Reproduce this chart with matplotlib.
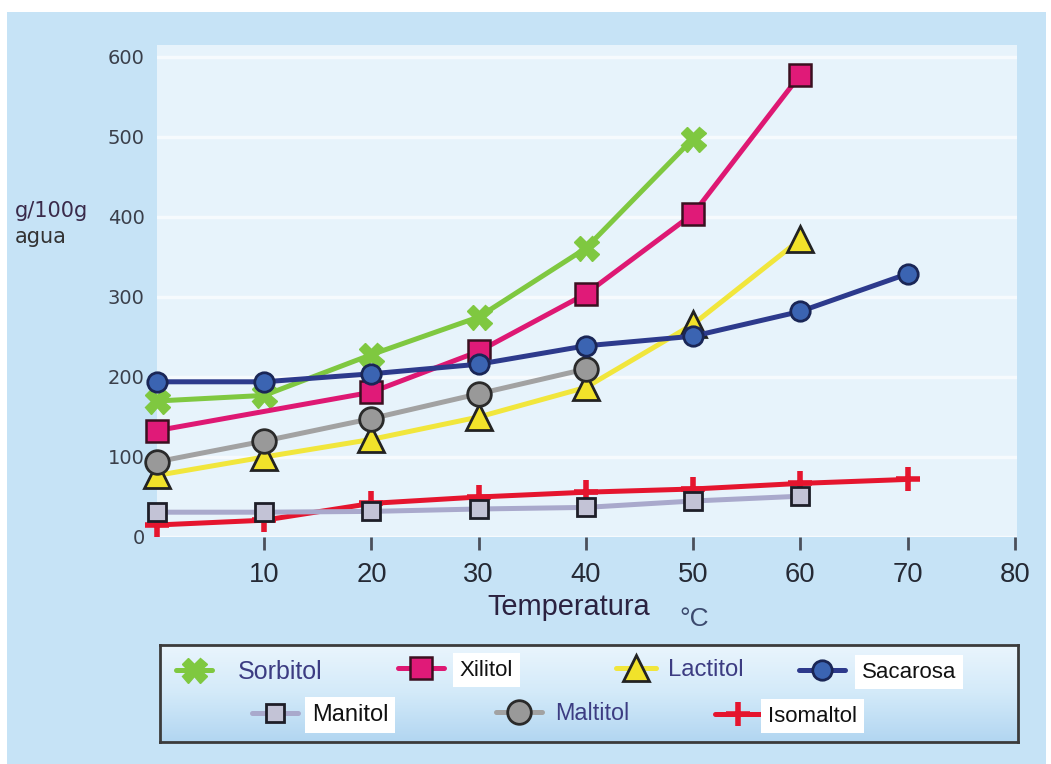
import matplotlib
matplotlib.use('Agg')
from matplotlib import pyplot as plt
from matplotlib import font_manager
from matplotlib.patches import Rectangle
import numpy as np

# data (g per 100 g water vs temperature, degC)
sorbitol_t = [0, 10, 20, 30, 40, 50]
sorbitol = [170, 177, 228, 275, 361, 498]

xilitol_t = [0, 20, 30, 40, 50, 60]
xilitol = [133, 181, 232, 304, 404, 578]

lactitol_t = [0, 10, 20, 30, 40, 50, 60]
lactitol = [77, 100, 122, 150, 187, 266, 372]

sacarosa_t = [0, 10, 20, 30, 40, 50, 60, 70]
sacarosa = [194, 194, 204, 216, 239, 251, 282, 329]

manitol_t = [0, 10, 20, 30, 40, 50, 60]
manitol = [31, 31, 32, 35, 37, 45, 51]

maltitol_t = [0, 10, 20, 30, 40]
maltitol = [94, 120, 148, 179, 210]

isomaltol_t = [0, 10, 20, 30, 40, 50, 60, 70]
isomaltol = [15, 21, 42, 50, 56, 60, 67, 72]

yticks = [0, 100, 200, 300, 400, 500, 600]
xticks = [10, 20, 30, 40, 50, 60, 70, 80]


def has_font(name):
    try:
        font_manager.findfont(font_manager.FontProperties(family=name), fallback_to_default=False)
        return True
    except Exception:
        return False

narrow = 'Liberation Sans Narrow' if has_font('Liberation Sans Narrow') else 'Liberation Sans'
# sizes for the narrow-looking texts depend on whether a narrow face exists
nscale = 1.0 if narrow == 'Liberation Sans Narrow' else 0.82

W, H = 1051, 764
fig = plt.figure(figsize=(W / 100, H / 100), dpi=100)
fig.patch.set_facecolor('white')

# blue frame behind everything
fig.add_artist(Rectangle((7 / W, 0), (1046 - 7) / W, (H - 12) / H, transform=fig.transFigure,
                         facecolor='#c6e3f6', edgecolor='none', zorder=-10))

ax = fig.add_axes([157 / W, 1 - 537 / H, (1017 - 157) / W, (537 - 45) / H])
ax.set_facecolor('#e7f3fb')
ax.set_xlim(0, 80.2)
ax.set_ylim(0, 615)
for s in ax.spines.values():
    s.set_visible(False)

ax.set_yticks(yticks)
ax.set_yticklabels([str(v) for v in yticks], fontfamily='DejaVu Sans', fontsize=14, color='#3a3f4a')
ax.tick_params(axis='y', length=0, pad=9)
ax.yaxis.grid(True, color='white', lw=2.5, alpha=0.65)
ax.set_axisbelow(True)

ax.set_xticks(xticks)
ax.set_xticklabels([str(v) for v in xticks], fontfamily=narrow, fontsize=24 * nscale, color='#252a35')
ax.tick_params(axis='x', direction='out', length=9, width=2, color='#4a4f5a', pad=9)

lw = 3.6
kw = dict(lw=lw, solid_capstyle='round', clip_on=False)
l_iso, = ax.plot(isomaltol_t, isomaltol, color='#e5152e', marker='+', ms=17, mew=4, zorder=3, **kw)
l_man, = ax.plot(manitol_t, manitol, color='#a9a9cc', marker='s', ms=13, mfc='#c3c3d6', mec='#1e1e28', mew=2, zorder=4, **kw)
l_lac, = ax.plot(lactitol_t, lactitol, color='#f1e63c', marker='^', ms=19, mfc='#f1e22a', mec='#222222', mew=2, zorder=5, **kw)
l_mal, = ax.plot(maltitol_t, maltitol, color='#a2a2a2', marker='o', ms=17, mfc='#999999', mec='#2a2a2a', mew=2, zorder=6, **kw)
l_sor, = ax.plot(sorbitol_t, sorbitol, color='#7fc840', marker='X', ms=18, mfc='#7fc840', mec='#7fc840', mew=1, zorder=7, **kw)
l_xil, = ax.plot(xilitol_t, xilitol, color='#de1873', marker='s', ms=16, mfc='#e01a78', mec='#3a1020', mew=1.8, zorder=8, **kw)
l_sac, = ax.plot(sacarosa_t, sacarosa, color='#2d3a8c', marker='o', ms=14, mfc='#3b64b2', mec='#1a2656', mew=2, zorder=9, **kw)

# axis titles
fig.text(569 / W, 1 - 615 / H, 'Temperatura', ha='center', va='baseline',
         fontfamily=narrow, fontsize=25.5 * nscale, color='#2b2240')
fig.text(679 / W, 1 - 626 / H, '°C', ha='left', va='baseline',
         fontfamily=narrow, fontsize=23 * nscale, color='#3c4a6e')
fig.text(15 / W, 1 - 217 / H, 'g/100g', ha='left', va='baseline',
         fontfamily='DejaVu Sans', fontsize=15, color='#3a2a4a')
fig.text(15 / W, 1 - 243 / H, 'agua', ha='left', va='baseline',
         fontfamily='DejaVu Sans', fontsize=15, color='#333333')

# legend box with a vertical gradient
lax = fig.add_axes([160 / W, 1 - 742 / H, (1018 - 160) / W, (742 - 645) / H])
grad = np.linspace(0, 1, 100).reshape(-1, 1)
cmap = matplotlib.colors.LinearSegmentedColormap.from_list('lg', ['#eaf5fd', '#d3eaf9', '#b2d6f1'])
lax.imshow(grad, aspect='auto', cmap=cmap, extent=[0, 1, 0, 1])
lax.set_xticks([])
lax.set_yticks([])
for s in lax.spines.values():
    s.set_color('#3b3b3b')
    s.set_linewidth(2)


def entry(line, label, mx, y, tx, color, fam, size, white=False, hl_px=46):
    fs_px = size * 100 / 72
    leg = fig.legend([line], [label], loc='center left',
                     bbox_to_anchor=((mx - hl_px / 2) / W, 1 - y / H),
                     frameon=False, borderpad=0, borderaxespad=0, numpoints=1,
                     handlelength=hl_px / fs_px,
                     handletextpad=(tx - mx - hl_px / 2) / fs_px,
                     prop={'family': fam, 'size': size})
    t = leg.get_texts()[0]
    t.set_color(color)
    if white:
        t.set_bbox(dict(facecolor='white', edgecolor='none', pad=5))
    return leg


entry(l_sor, 'Sorbitol', 194, 672, 238, '#3c3c82', narrow, 22 * nscale, hl_px=36)
entry(l_xil, 'Xilitol', 421, 670, 460, '#111111', 'Liberation Sans', 16, white=True)
entry(l_lac, 'Lactitol', 636, 670, 668, '#3c3c82', narrow, 21 * nscale, hl_px=40)
entry(l_sac, 'Sacarosa', 822, 672, 862, '#111111', 'Liberation Sans', 16, white=True)
entry(l_man, 'Manitol', 275, 715, 312, '#111111', 'Liberation Sans', 17, white=True)
entry(l_mal, 'Maltitol', 519, 714, 555, '#3c3c82', narrow, 20.5 * nscale)
entry(l_iso, 'Isomaltol', 738, 716, 768, '#111111', 'Liberation Sans', 16, white=True)

plt.savefig('out.png', dpi=100)
